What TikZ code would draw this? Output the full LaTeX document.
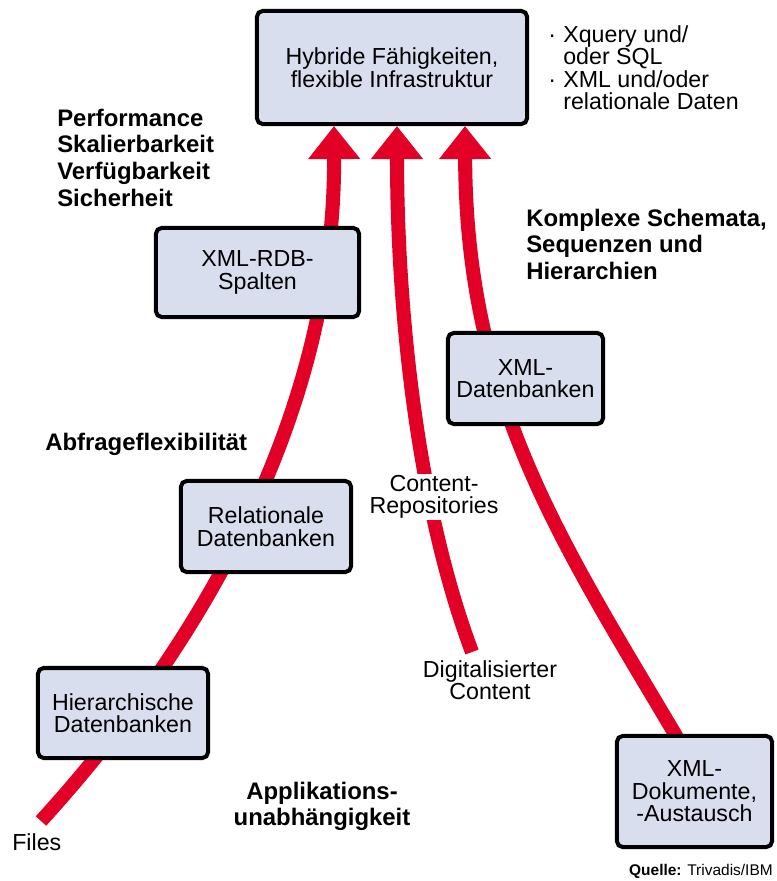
\documentclass[tikz,border=0pt]{standalone}
\usepackage{fontspec}
\setmainfont{Liberation Sans}
\usetikzlibrary{arrows.meta,calc,backgrounds}
\definecolor{boxfill}{RGB}{217,222,238}
\definecolor{flowred}{RGB}{226,0,38}
\newcommand{\regtext}{\fontsize{16.5}{16}\selectfont}
\newcommand{\boldtext}{\fontsize{17}{19}\selectfont\bfseries}

\begin{document}
\begin{tikzpicture}[x=0.025cm,y=-0.025cm,
  dbbox/.style={draw,line width=2.85pt,rounded corners=4pt,fill=boxfill,align=center,font=\regtext},
  flow/.style={draw=flowred,line width=10pt,-{Triangle[length=23.5pt,width=35.6pt]}},
  hl/.style={font=\boldtext,inner sep=0pt},
  lbl/.style={font=\regtext,inner sep=0pt}]
  \useasboundingbox (0,0) rectangle (776,881);
  % Datenbank-Kaesten
  \node[dbbox,minimum width=6.75cm,minimum height=2.825cm] (top) at (392,67.5) {Hybride Fähigkeiten,\\flexible Infrastruktur};
  \node[dbbox,minimum width=5.075cm,minimum height=2.225cm] (rdb) at (257.5,272.5) {XML-RDB-\\Spalten};
  \node[dbbox,minimum width=4.25cm,minimum height=2.275cm] (rel) at (266,526.5) {Relationale\\Datenbanken};
  \node[dbbox,minimum width=4.25cm,minimum height=2.25cm] (hier) at (123,713) {Hierarchische\\Datenbanken};
  \node[dbbox,minimum width=3.875cm,minimum height=2.275cm] (xdb) at (525.5,378.5) {XML-\\Datenbanken};
  \node[dbbox,minimum width=3.875cm,minimum height=2.775cm] (dok) at (694.5,791.5) {XML-\\Dokumente,\\-Austausch};
  % Beschriftungen
  \node[lbl,anchor=north west,align=left] (feat) at (548,25)
    {\makebox[10.7pt][l]{·}Xquery und/\\\hspace*{10.7pt}oder SQL\\\makebox[10.7pt][l]{·}XML und/oder\\\hspace*{10.7pt}relationale Daten};
  \node[hl,anchor=north west,align=left] (perf) at (57,108.5) {Performance\\Skalierbarkeit\\Verfügbarkeit\\Sicherheit};
  \node[hl,anchor=north west,align=left] (schema) at (526,208.5) {Komplexe Schemata,\\Sequenzen und\\Hierarchien};
  \node[hl,anchor=base west] (abfrage) at (45,450) {Abfrageflexibilität};
  \node[hl,anchor=north,align=center] (appl) at (322,781.5) {Applikations-\\unabhängigkeit};
  \node[lbl,anchor=base west] (files) at (12,850) {Files};
  \node[lbl,anchor=north,align=center] (dig) at (490,660) {Digitalisierter\\Content};
  \node[lbl,anchor=base east,font=\fontsize{11}{13}\selectfont] (src) at (773,875) {\textbf{Quelle:} Trivadis/IBM};
  \coordinate (filesend) at (41,821);
  \coordinate (digend) at (472,652);
  % Pfeile hinter den Kaesten
  \begin{scope}[on background layer]
    \draw[flow] (filesend) .. controls (215,630) and (335,400) .. ($(top.south)+(-58,0)$);
    \draw[flow] (digend) .. controls (415,500) and (397,300) .. ($(top.south)+(5,0)$);
    \draw[flow] ($(dok.north)+(-16,6)$) .. controls (560,540) and (466,400) .. ($(top.south)+(73,0)$);
  \end{scope}
  \node[lbl,fill=white,inner sep=1pt,align=center] (repo) at (434,497) {Content-\\Repositories};
\end{tikzpicture}
\end{document}
